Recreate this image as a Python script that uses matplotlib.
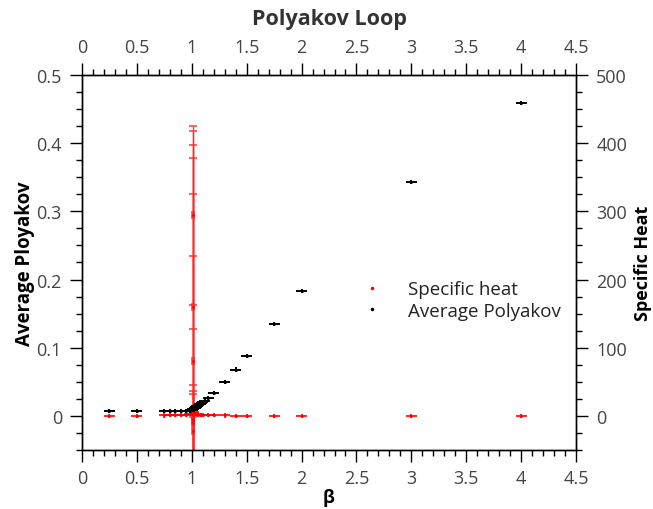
import matplotlib
matplotlib.use("Agg")
import matplotlib.pyplot as plt
from matplotlib.lines import Line2D
from matplotlib.ticker import MultipleLocator

plt.rcParams["font.family"] = ["Open Sans", "DejaVu Sans"]

# average Polyakov loop vs beta
beta_p = [0.25, 0.5, 0.75, 0.8, 0.85, 0.9, 0.95,
          0.98, 0.99, 1.0, 1.005, 1.01, 1.015, 1.02, 1.025, 1.03, 1.035,
          1.04, 1.045, 1.05, 1.06, 1.07, 1.08, 1.09, 1.1, 1.12,
          1.15, 1.2, 1.3, 1.4, 1.5, 1.75, 2.0, 3.0, 4.0]
poly = [0.0073, 0.0073, 0.0070, 0.0070, 0.0070, 0.0071, 0.0074,
        0.0078, 0.0082, 0.0088, 0.0092, 0.0097, 0.0102, 0.0108, 0.0114, 0.0120, 0.0126,
        0.0132, 0.0138, 0.0144, 0.0156, 0.0168, 0.0180, 0.0192, 0.0204, 0.0225,
        0.026, 0.034, 0.050, 0.068, 0.0875, 0.135, 0.183, 0.343, 0.459]

# specific heat away from the transition
beta_c = [0.25, 0.5, 0.75, 0.8, 0.85, 0.9, 0.95, 0.98, 0.99, 1.02, 1.04,
          1.06, 1.08, 1.1, 1.15, 1.2, 1.3, 1.4, 1.5, 1.75, 2.0, 3.0, 4.0]
heat = [0.5, 0.5, 0.6, 0.7, 0.8, 1.0, 1.5, 2.5, 3.5, 5.0, 3.0,
        2.0, 1.5, 1.2, 0.9, 0.8, 0.6, 0.5, 0.5, 0.4, 0.4, 0.3, 0.3]

# specific heat right at the transition (large fluctuations)
beta_t = [1.008, 1.0085, 1.009, 1.0095, 1.010, 1.0105, 1.011, 1.0115,
          1.012, 1.0125, 1.013, 1.0135]
heat_t = [294, 160, 81, 10, 6, 5, 3, -4, -8, -10, -22, 1]
heat_t_err = [131, 258, 316, 368, 319, 230, 124, 50, 45, 42, 32, 2]

fig = plt.figure(figsize=(6.53, 5.10), dpi=100)
ax = fig.add_axes([0.1256, 0.1157, 0.7565, 0.7353])
ax2 = ax.twinx()
ax.set_zorder(ax2.get_zorder() + 1)
ax.patch.set_visible(False)

ax2.errorbar(beta_c, heat, xerr=0.05, yerr=3, fmt=".", ms=2, color="red",
             elinewidth=1.2, capsize=0)
ax2.errorbar(beta_t, heat_t, xerr=0.01, yerr=heat_t_err, fmt=".", ms=2,
             color="red", ecolor=(1, 0.15, 0.15, 0.85), elinewidth=1.0,
             capsize=3, capthick=1.2)
ax.errorbar(beta_p, poly, xerr=0.05, yerr=0.003, fmt=".", ms=2, color="black",
            elinewidth=1.4, capsize=0)

ax.set_xlim(0, 4.5)
ax.set_ylim(-0.05, 0.5)
ax2.set_ylim(-50, 500)

ax.xaxis.set_major_locator(MultipleLocator(0.5))
ax.xaxis.set_minor_locator(MultipleLocator(0.1))
ax.yaxis.set_major_locator(MultipleLocator(0.1))
ax.yaxis.set_minor_locator(MultipleLocator(0.025))
ax2.yaxis.set_major_locator(MultipleLocator(100))
ax2.yaxis.set_minor_locator(MultipleLocator(25))

ax.xaxis.set_major_formatter(plt.FuncFormatter(lambda v, p: f"{v:g}"))
ax.yaxis.set_major_formatter(plt.FuncFormatter(lambda v, p: f"{v:g}"))

tick_color = "#444444"
for a in (ax, ax2):
    a.tick_params(which="major", length=8.5, width=1, direction="out",
                  labelsize=13, labelcolor=tick_color, pad=6)
    a.tick_params(which="minor", length=4.5, width=1, direction="out")
    for s in a.spines.values():
        s.set_linewidth(1)
ax.tick_params(axis="x", which="both", top=True, labeltop=True, pad=5)

ax.set_title("Polyakov Loop", fontsize=15.5, fontweight="bold", color="#333333", pad=10)
ax.set_xlabel("β", fontsize=13, fontweight="bold", labelpad=1)
ax.set_ylabel("Average Ployakov", fontsize=13.5, fontweight="bold", labelpad=1)
ax2.set_ylabel("Specific Heat", fontsize=13, fontweight="bold", labelpad=5)

handles = [Line2D([], [], ls="none", marker=".", ms=3, color="red"),
           Line2D([], [], ls="none", marker=".", ms=3, color="black")]
ax.legend(handles, ["Specific heat", "Average Polyakov"], loc="center left",
          bbox_to_anchor=(0.53, 0.40), frameon=False, fontsize=13.5,
          handlelength=1.2, handletextpad=1.3, labelspacing=0.2,
          labelcolor="#222222")

fig.savefig("out.png", dpi=100)
